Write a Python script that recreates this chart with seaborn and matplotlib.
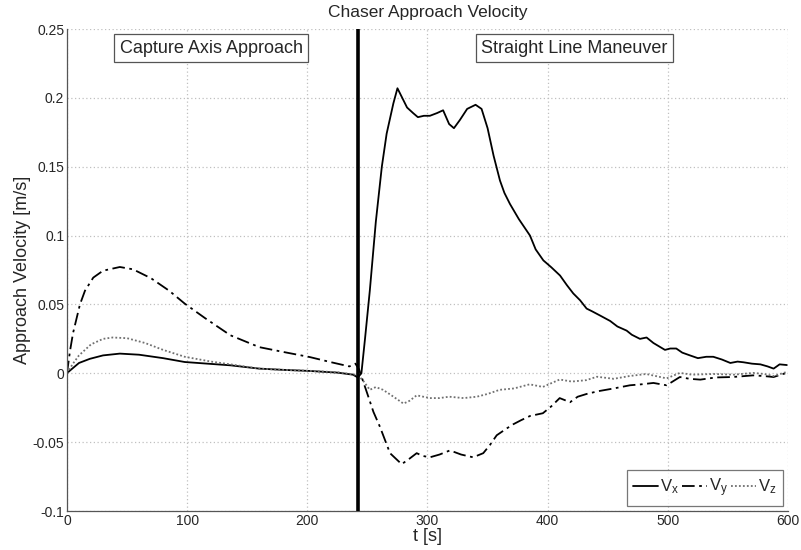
import matplotlib
matplotlib.use("Agg")
import matplotlib.pyplot as plt
import seaborn as sns
import pandas as pd

# Time samples [s] and velocity components [m/s]
t_x = [0, 2.5, 10, 19, 30, 44, 60, 80, 98, 120, 136, 160, 180, 202, 225, 238, 242,
       245, 248, 252, 257, 262, 266, 271.6, 275, 279, 283, 288, 292, 297, 302, 308, 313,
       318, 322, 327, 333, 340, 345, 350, 355, 360.3, 364, 368.6, 376, 385.3, 390, 396.4,
       403, 410.3, 416, 421.3, 427, 432.4, 437, 443.5, 452, 458, 465.7, 470, 476.8, 482.3,
       488, 497.6, 502, 507, 512, 518.4, 525, 532, 537.8, 545, 552, 558, 563, 570, 577,
       583, 588, 593, 599]
v_x = [0, 0.002, 0.0075, 0.0105, 0.013, 0.0143, 0.0135, 0.011, 0.0082, 0.0068, 0.0058,
       0.0034, 0.0025, 0.0017, 0.0005, -0.001, -0.003,
       0.0, 0.025, 0.06, 0.11, 0.15, 0.174, 0.196, 0.207, 0.2, 0.193, 0.189, 0.186, 0.187,
       0.187, 0.189, 0.191, 0.181, 0.178, 0.184, 0.192, 0.195, 0.192, 0.178, 0.158, 0.14,
       0.131, 0.123, 0.112, 0.1, 0.09, 0.082, 0.077, 0.071, 0.064, 0.058, 0.053, 0.047,
       0.045, 0.042, 0.038, 0.034, 0.031, 0.028, 0.025, 0.026, 0.022, 0.017, 0.018, 0.018,
       0.015, 0.013, 0.011, 0.012, 0.012, 0.010, 0.0075, 0.0085, 0.008, 0.007, 0.0065,
       0.005, 0.0034, 0.0065, 0.006]

t_y = [0, 2.5, 5, 10.8, 15, 21.9, 30, 44, 55, 70, 85, 98, 115, 136, 160, 180, 202, 220,
       235, 240, 243, 250, 255, 260.5, 268.8, 278.5, 285, 291, 296, 302, 310, 318.7, 328,
       338, 346.4, 352, 357.6, 366, 371.4, 378, 385.3, 396, 403, 410, 418.6, 425, 432.4,
       442, 455, 468.5, 478, 488, 499, 510, 518, 527, 540, 554, 571, 580, 588, 594, 599]
v_y = [0, 0.016, 0.029, 0.050, 0.060, 0.0695, 0.0745, 0.0772, 0.0755, 0.069, 0.06, 0.0506,
       0.040, 0.0276, 0.019, 0.0155, 0.0118, 0.008, 0.005, 0.007, 0.003, -0.015, -0.028,
       -0.039, -0.058, -0.066, -0.062, -0.058, -0.060, -0.061, -0.059, -0.056, -0.059,
       -0.061, -0.058, -0.052, -0.045, -0.040, -0.037, -0.034, -0.031, -0.029, -0.024,
       -0.018, -0.021, -0.017, -0.015, -0.013, -0.011, -0.0087, -0.008, -0.007, -0.0087,
       -0.0027, -0.004, -0.0046, -0.003, -0.0027, -0.0015, -0.002, -0.0027, -0.001, 0.0003]

t_z = [0, 5, 10, 20, 30, 38, 50, 65, 80, 98, 120, 136, 160, 180, 202, 225, 240, 244, 247,
       252, 257, 263, 270, 280, 285, 291, 302, 310, 318, 330, 341, 350, 360, 372, 385, 396,
       410, 420, 432, 441, 455, 468, 482, 490, 499, 510, 520, 538, 555, 571, 580, 588, 599]
v_z = [0, 0.007, 0.013, 0.021, 0.025, 0.026, 0.0255, 0.022, 0.017, 0.012, 0.0085, 0.0065,
       0.0034, 0.0025, 0.0018, 0.0008, -0.001, -0.003, -0.006, -0.012, -0.01, -0.012,
       -0.016, -0.022, -0.02, -0.016, -0.018, -0.018, -0.017, -0.018, -0.017, -0.015,
       -0.012, -0.011, -0.008, -0.0099, -0.0045, -0.006, -0.005, -0.0025, -0.004, -0.002,
       -0.0005, -0.002, -0.0037, 0.0003, -0.001, -0.0005, -0.001, 0.0003, -0.0005, -0.002,
       0.001]

phase_switch = 242
x_ticks = [0, 100, 200, 300, 400, 500, 600]
y_ticks = [-0.1, -0.05, 0, 0.05, 0.1, 0.15, 0.2, 0.25]
y_tick_labels = ["-0.1", "-0.05", "0", "0.05", "0.1", "0.15", "0.2", "0.25"]

sns.set_style("white")
plt.rcParams["font.family"] = ["Liberation Sans", "DejaVu Sans"]
plt.rcParams["mathtext.fontset"] = "custom"
plt.rcParams["mathtext.rm"] = "Liberation Sans"
plt.rcParams["mathtext.it"] = "Liberation Sans"

fig = plt.figure(figsize=(8.01, 5.50), dpi=100)
ax = fig.add_axes([0.0836, 0.0709, 0.9002, 0.8763])

df_x = pd.DataFrame({"t": t_x, "v": v_x})
df_y = pd.DataFrame({"t": t_y, "v": v_y})
df_z = pd.DataFrame({"t": t_z, "v": v_z})

sns.lineplot(data=df_x, x="t", y="v", ax=ax, color="black", lw=1.3,
             label=r"V$_\mathregular{x}$", sort=False)
sns.lineplot(data=df_y, x="t", y="v", ax=ax, color="black", lw=1.3,
             linestyle=(0, (7, 2.5, 1.5, 2.5)), label=r"V$_\mathregular{y}$", sort=False)
sns.lineplot(data=df_z, x="t", y="v", ax=ax, color="#707070", lw=1.3,
             linestyle=(0, (1, 1.2)), label=r"V$_\mathregular{z}$", sort=False)

ax.axvline(phase_switch, color="black", lw=2.6, zorder=5)

ax.set_xlim(0, 600)
ax.set_ylim(-0.1, 0.25)
ax.set_xticks(x_ticks)
ax.set_yticks(y_ticks)
ax.set_yticklabels(y_tick_labels)
ax.tick_params(axis="both", direction="in", length=4, labelsize=10, color="#444444",
               pad=2)
ax.grid(True, linestyle=(0, (1, 2)), color="#c0c0c0", lw=0.9)

for side in ("top", "right"):
    ax.spines[side].set_visible(False)
for side in ("left", "bottom"):
    ax.spines[side].set_color("#555555")
    ax.spines[side].set_linewidth(0.9)

ax.set_title("Chaser Approach Velocity", fontsize=12.5, pad=9)
ax.set_xlabel("t [s]", fontsize=13, labelpad=0)
ax.set_ylabel("Approach Velocity [m/s]", fontsize=13, labelpad=1)

box = dict(boxstyle="square,pad=0.3", facecolor="white", edgecolor="#555555", lw=0.9)
ax.text(120, 0.236, "Capture Axis Approach", fontsize=13, ha="center", va="center",
        bbox=box)
ax.text(422, 0.236, "Straight Line Maneuver", fontsize=13, ha="center", va="center",
        bbox=box)

leg = ax.legend(loc="lower right", ncol=3, fontsize=12, frameon=True, fancybox=False,
                handlelength=1.5, handletextpad=0.1, columnspacing=0.2,
                borderpad=0.4, borderaxespad=0.3)
leg.get_frame().set_edgecolor("#555555")
leg.get_frame().set_linewidth(0.9)

fig.savefig("out.png", dpi=100, facecolor="white")
